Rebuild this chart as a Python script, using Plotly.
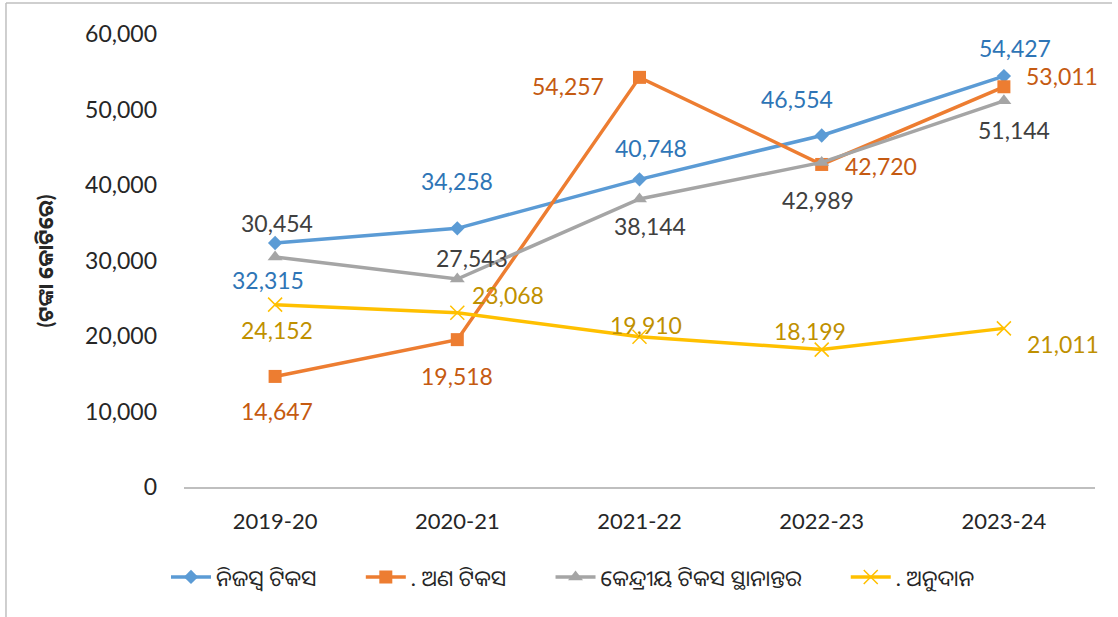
import plotly.graph_objects as go

years = ["2019-20", "2020-21", "2021-22", "2022-23", "2023-24"]
own_tax = [32315, 34258, 40748, 46554, 54427]
non_tax = [14647, 19518, 54257, 42720, 53011]
central_tax = [30454, 27543, 38144, 42989, 51144]
grants = [24152, 23068, 19910, 18199, 21011]

names = ["ନିଜସ୍ୱ ଟିକସ", ". ଅଣ ଟିକସ", "କେନ୍ଦ୍ରୀୟ ଟିକସ ସ୍ଥାନାନ୍ତର", ". ଅନୁଦାନ"]
y_title = "(ଟଙ୍କା କୋଟିରେ)"
y_ticks = [0, 10000, 20000, 30000, 40000, 50000, 60000]

series = [own_tax, non_tax, central_tax, grants]
line_colors = ["#5B9BD5", "#ED7D31", "#A5A5A5", "#FFC000"]
label_colors = ["#2E75B6", "#C55A11", "#404040", "#BF9000"]
symbols = ["diamond", "square", "triangle-up", "x-thin"]
marker_sizes = [11, 13, 13, 14]

# label offsets (pixels, dx right, dy down) per series per point
offsets = [
    [(-7, 37), (0, -47), (11, -31), (-25, -37), (11, -28)],
    [(2, 35), (0, 36), (-72, 9), (59, 2), (58, -11)],
    [(2, -34), (15, -21), (10, 27), (-4, 38), (10, 29)],
    [(2, 25), (51, -18), (6, -12), (-12, -19), (59, 16)],
]

FONT = "Lato, 'Noto Sans', 'Noto Sans Oriya', sans-serif"
GAP = "\u00a0" * 7

fig = go.Figure()
annotations = []
for i, (vals, name, lc, tc, sym, ms, offs) in enumerate(zip(
        series, names, line_colors, label_colors, symbols, marker_sizes, offsets)):
    marker = dict(symbol=sym, size=ms, color=lc)
    if sym == "x-thin":
        marker["line"] = dict(color=lc, width=1.5)
    fig.add_trace(go.Scatter(
        x=years, y=vals, name=name + (GAP if i < len(names) - 1 else ""),
        mode="lines+markers",
        line=dict(color=lc, width=3.5), marker=marker,
    ))
    for x, v, (dx, dy) in zip(years, vals, offs):
        annotations.append(dict(
            x=x, y=v, text=f"{v:,}", showarrow=False,
            xshift=dx, yshift=-dy,
            font=dict(size=23, color=tc, family=FONT),
        ))

annotations.append(dict(
    xref="paper", yref="paper", x=-0.1526, y=0.5, xanchor="center", yanchor="middle",
    text=f"<b>{y_title}</b>",
    textangle=-90, showarrow=False, font=dict(size=21, color="#262626", family=FONT),
))

fig.update_layout(
    width=1118, height=617,
    margin=dict(l=184, r=23, t=34, b=130, autoexpand=False),
    paper_bgcolor="white", plot_bgcolor="white",
    font=dict(family=FONT, color="#262626"),
    showlegend=True,
    legend=dict(orientation="h", x=0.427, xanchor="center",
                y=-0.199, yanchor="middle",
                font=dict(size=22, color="#262626"), itemwidth=40),
    annotations=annotations,
    shapes=[
        dict(type="line", xref="paper", yref="paper", x0=-0.1954, x1=-0.1954, y0=1.0684, y1=-0.3),
        dict(type="line", xref="paper", yref="paper", x0=-0.1954, x1=1.0187, y0=1.0684, y1=1.0684),
    ],
)
for s in fig.layout.shapes:
    s.line = dict(color="#BFBFBF", width=1.5)

fig.update_xaxes(range=[-0.5, 4.5], showgrid=False, showline=True, linecolor="#BFBFBF",
                 linewidth=1.5, ticks="", tickfont=dict(size=22, color="#262626"),
                 ticklabelstandoff=14, tickangle=0)
fig.update_yaxes(range=[0, 60000], tickvals=y_ticks, tickformat=",", showgrid=False,
                 zeroline=False, showline=False, ticks="",
                 tickfont=dict(size=23, color="#262626"), ticklabelstandoff=26)

fig.write_html("out.html", config={"displayModeBar": False},
               post_script="document.body.style.margin='0px';")
